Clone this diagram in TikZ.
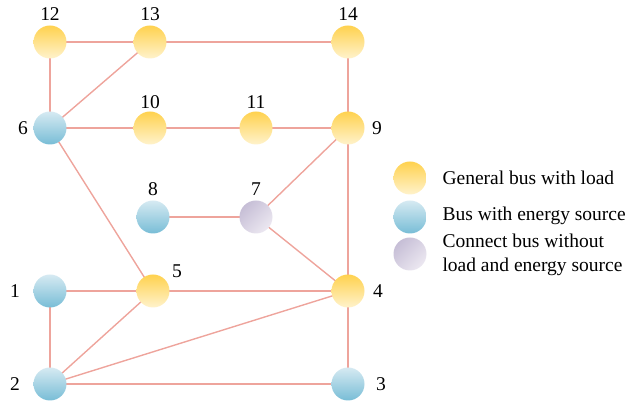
\documentclass[tikz,border=0pt]{standalone}
\usepackage{fontspec}
\setmainfont{Liberation Serif}
\begin{document}
\begin{tikzpicture}[x=1pt,y=-1pt,
  bus/.style={circle,minimum size=33pt,inner sep=0pt},
  ybus/.style={bus,top color=yTop,bottom color=yBot},
  bbus/.style={bus,top color=bTop,bottom color=bBot},
  pbus/.style={bus,left color=pTop,right color=pBot,shading angle=45},
  num/.style={font=\fontsize{19.5}{19.5}\selectfont,text=black},
  leg/.style={font=\fontsize{19.5}{24}\selectfont,anchor=west,align=left,text=black},
  line/.style={draw=edgeC,line width=1.4pt}]
\definecolor{yTop}{HTML}{FFD24E}
\definecolor{yBot}{HTML}{FFF2CC}
\definecolor{bTop}{HTML}{D6EAF2}
\definecolor{bBot}{HTML}{78BDD6}
\definecolor{pTop}{HTML}{C6BED6}
\definecolor{pBot}{HTML}{ECE8F1}
\definecolor{edgeC}{HTML}{EEA49C}
\useasboundingbox (0,0) rectangle (633,403);
% node positions (drawn after the edges)
\coordinate (n12) at (50,42);
\coordinate (n13) at (150,42);
\coordinate (n14) at (348,42);
\coordinate (n6) at (50,128);
\coordinate (n10) at (150,128);
\coordinate (n11) at (256,128);
\coordinate (n9) at (348,128);
\coordinate (n8) at (153,217);
\coordinate (n7) at (256,217);
\coordinate (n1) at (50,291);
\coordinate (n5) at (153,291);
\coordinate (n4) at (348,291);
\coordinate (n2) at (50,384);
\coordinate (n3) at (348,384);
% edges
\foreach \a/\b in {n12/n13,n13/n14,n12/n6,n6/n13,n6/n10,n10/n11,n11/n9,n14/n9,n6/n5,n8/n7,n7/n9,n7/n4,n9/n4,n1/n5,n5/n4,n1/n2,n2/n5,n2/n4,n2/n3,n3/n4}
  \draw[line] (\a) -- (\b);
% nodes
\node[ybus] (b12) at (n12) {};
\node[ybus] (b13) at (n13) {};
\node[ybus] (b14) at (n14) {};
\node[bbus] (b6) at (n6) {};
\node[ybus] (b10) at (n10) {};
\node[ybus] (b11) at (n11) {};
\node[ybus] (b9) at (n9) {};
\node[bbus] (b8) at (n8) {};
\node[pbus] (b7) at (n7) {};
\node[bbus] (b1) at (n1) {};
\node[ybus] (b5) at (n5) {};
\node[ybus] (b4) at (n4) {};
\node[bbus] (b2) at (n2) {};
\node[bbus] (b3) at (n3) {};
% labels
\node[num] (l12) at (50,14) {12};
\node[num] (l13) at (150,14) {13};
\node[num] (l14) at (348,14) {14};
\node[num] (l6) at (23,128) {6};
\node[num] (l10) at (150,102) {10};
\node[num] (l11) at (256,102) {11};
\node[num] (l9) at (377,128) {9};
\node[num] (l8) at (153,189) {8};
\node[num] (l7) at (256,189) {7};
\node[num] (l5) at (177,271) {5};
\node[num] (l1) at (15,291) {1};
\node[num] (l4) at (378,291) {4};
\node[num] (l2) at (15,384) {2};
\node[num] (l3) at (381,384) {3};
% legend
\node[ybus] (ly) at (410,178) {};
\node[bbus] (lb) at (410,217) {};
\node[pbus] (lp) at (410,254) {};
\node[leg] (ty) at (439,178) {General bus with load};
\node[leg] (tb) at (439,216) {Bus with energy source};
\node[leg] (tp) at (439,255) {Connect bus without\\load and energy source};
\end{tikzpicture}
\end{document}
